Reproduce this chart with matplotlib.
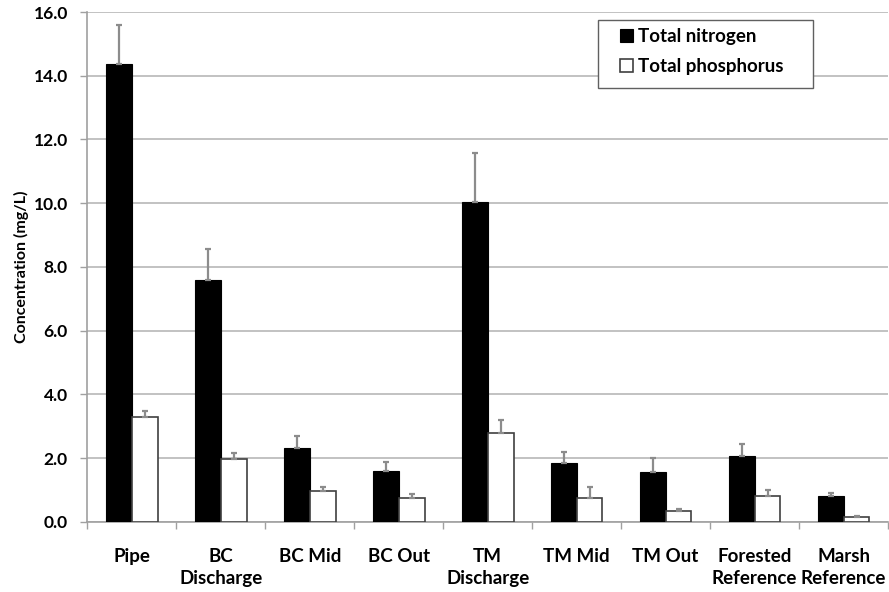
import numpy as np
import matplotlib.pyplot as plt
from matplotlib.patches import Rectangle
from matplotlib.ticker import FixedLocator

plt.rcParams['font.family'] = ['Lato', 'DejaVu Sans']
plt.rcParams['font.weight'] = 'bold'

sites = ['Pipe', 'BC\nDischarge', 'BC Mid', 'BC Out', 'TM\nDischarge',
         'TM Mid', 'TM Out', 'Forested\nReference', 'Marsh\nReference']
nitrogen = [14.38, 7.59, 2.30, 1.58, 10.03, 1.85, 1.57, 2.05, 0.80]
nitrogen_err = [1.21, 0.96, 0.38, 0.31, 1.54, 0.33, 0.42, 0.38, 0.11]
phosphorus = [3.30, 1.96, 0.98, 0.75, 2.79, 0.76, 0.33, 0.82, 0.15]
phosphorus_err = [0.17, 0.21, 0.12, 0.11, 0.40, 0.34, 0.08, 0.17, 0.03]
yticks = [0, 2, 4, 6, 8, 10, 12, 14, 16]

x = np.arange(len(sites))
w = 0.29

fig = plt.figure(figsize=(8.89, 5.92), dpi=100)
ax = fig.add_axes([0.0982, 0.1187, 0.9008, 0.861])

err_kw = dict(ecolor='#8c8c8c', elinewidth=1.6, capsize=2.5, capthick=1.6)
n = np.array(nitrogen_err)
p = np.array(phosphorus_err)
ax.bar(x - w/2, nitrogen, w, color='black', edgecolor='black', linewidth=0.8,
       yerr=[np.zeros_like(n), n], error_kw=err_kw, label='Total nitrogen', zorder=3)
ax.bar(x + w/2, phosphorus, w, color='white', edgecolor='#404040', linewidth=1.2,
       yerr=[np.zeros_like(p), p], error_kw=err_kw, label='Total phosphorus', zorder=3)

ax.set_xlim(-0.5, len(sites) - 0.5)
ax.set_ylim(0, 16)
ax.set_yticks(yticks)
ax.set_yticklabels(['%.1f' % v for v in yticks], fontweight='bold')
ax.grid(axis='y', color='#b8b8b8', linewidth=1.2, zorder=0)
ax.set_axisbelow(True)

ax.set_xticks(x)
ax.set_xticklabels(sites, linespacing=1.38, fontweight='bold')
ax.xaxis.set_minor_locator(FixedLocator(np.arange(-0.5, len(sites), 1)))
ax.tick_params(axis='x', which='major', length=0, pad=19, labelsize=13.5)
ax.tick_params(axis='x', which='minor', length=5, color='#a0a0a0', width=1)
ax.tick_params(axis='y', length=5, color='#a0a0a0', width=1, labelsize=12.5, pad=9)

for s in ['top', 'right']:
    ax.spines[s].set_visible(False)
for s in ['left', 'bottom']:
    ax.spines[s].set_color('#a0a0a0')
    ax.spines[s].set_linewidth(1.2)

ax.set_ylabel('Concentration (mg/L)', fontsize=11.5, fontweight='bold', labelpad=3)

# legend box drawn separately so the padding can be wider than tall
fig.patches.append(Rectangle((0.6727, 0.8514), 0.2418, 0.1149,
                             transform=fig.transFigure, facecolor='white',
                             edgecolor='#606060', linewidth=1.0, zorder=5))
leg = fig.legend(loc='upper left', bbox_to_anchor=(0.697, 0.953), fontsize=13.5,
                 frameon=False, handlelength=0.7, handleheight=0.7,
                 handletextpad=0.3, labelspacing=0.72, borderpad=0,
                 borderaxespad=0)
leg.set_zorder(6)
for t in leg.get_texts():
    t.set_fontweight('bold')

fig.savefig('out.png', dpi=100)
